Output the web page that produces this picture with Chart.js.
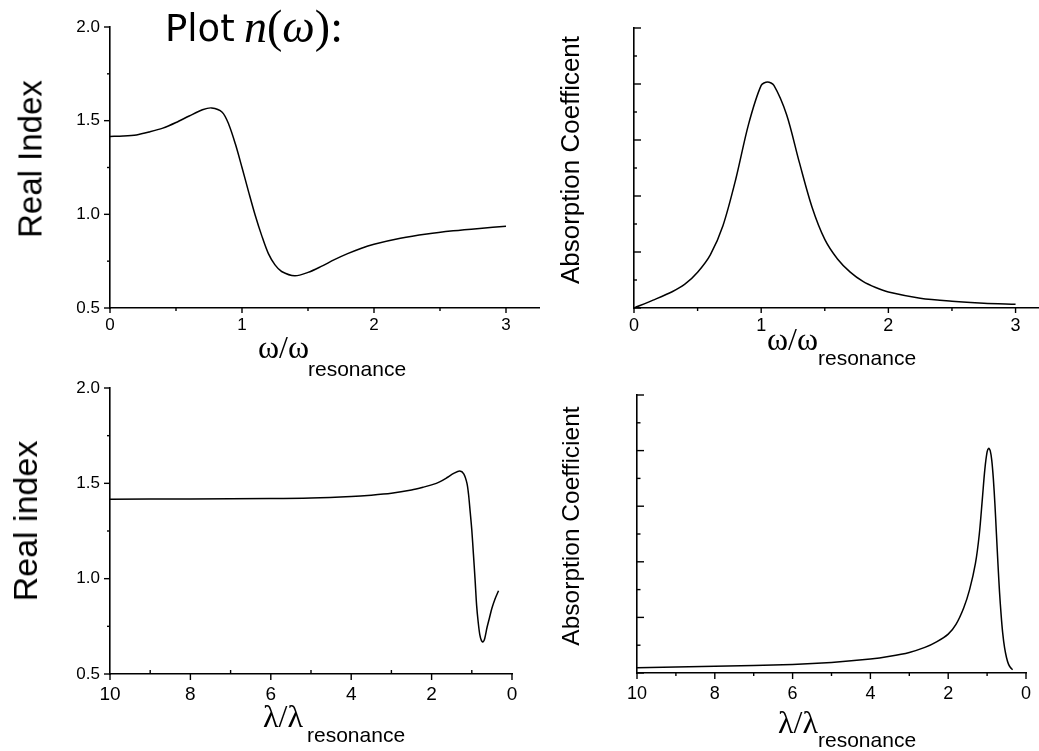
<!DOCTYPE html>
<html>
<head>
<meta charset="utf-8">
<script src="https://cdn.jsdelivr.net/npm/chart.js@4.4.1/dist/chart.umd.min.js"></script>
<style>
  html, body { margin: 0; padding: 0; background: #fff; overflow: hidden; width: 1039px; height: 751px; }
  canvas { position: absolute; left: 0; top: 0; }
  .t { position: absolute; white-space: nowrap; line-height: 1; color: #000; }
  .sans { font-family: "Liberation Sans", Arial, sans-serif; }
  .serif { font-family: "Liberation Serif", "Times New Roman", "DejaVu Serif", serif; }
  .rot { transform: translate(-50%, -50%) rotate(-90deg); }
</style>
</head>
<body>
<canvas id="tl" width="1060" height="751"></canvas>
<canvas id="tr" width="1060" height="751"></canvas>
<canvas id="bl" width="1060" height="751"></canvas>
<canvas id="br" width="1060" height="751"></canvas>

<!-- title -->
<div class="t" style="left:165px;top:10px;font-family:'DejaVu Sans';font-size:37px">Plot</div>
<div class="t serif" style="left:244px;top:4px;font-size:46px"><i>n</i>(<i>ω</i>):</div>

<!-- y titles -->
<div class="t sans rot" style="left:30px;top:159px;font-size:33px">Real Index</div>
<div class="t sans rot" style="left:25px;top:521px;font-size:34px">Real index</div>
<div class="t sans rot" style="left:570px;top:160px;font-size:26px">Absorption Coefficent</div>
<div class="t sans rot" style="left:571px;top:526px;font-size:24.5px">Absorption Coefficient</div>

<!-- x titles -->
<div class="t serif" style="left:258px;top:331px;font-size:32px">ω/ω</div>
<div class="t sans" style="left:308px;top:358px;font-size:21px">resonance</div>
<div class="t serif" style="left:767px;top:323px;font-size:32px">ω/ω</div>
<div class="t sans" style="left:818px;top:347px;font-size:21px">resonance</div>
<div class="t serif" style="left:263px;top:700px;font-size:32px">λ/λ</div>
<div class="t sans" style="left:307px;top:724px;font-size:21px">resonance</div>
<div class="t serif" style="left:778px;top:706px;font-size:32px">λ/λ</div>
<div class="t sans" style="left:818px;top:729px;font-size:21px">resonance</div>

<script>
// values
const tlOmega = [0, 0.1, 0.2, 0.3, 0.4, 0.5, 0.6, 0.7, 0.77, 0.85, 0.9, 0.95, 1.0, 1.05, 1.1, 1.15, 1.2, 1.25, 1.3, 1.4, 1.5, 1.6, 1.7, 1.8, 1.9, 2.0, 2.2, 2.4, 2.6, 2.8, 3.0];
const tlIndex = [1.416, 1.418, 1.424, 1.44, 1.46, 1.49, 1.525, 1.558, 1.568, 1.545, 1.48, 1.375, 1.25, 1.12, 0.995, 0.885, 0.79, 0.73, 0.695, 0.672, 0.69, 0.722, 0.758, 0.79, 0.818, 0.84, 0.872, 0.895, 0.912, 0.925, 0.936];

const trOmega = [0, 0.15, 0.3, 0.4, 0.5, 0.6, 0.7, 0.8, 0.9, 1.0, 1.05, 1.1, 1.2, 1.3, 1.4, 1.5, 1.6, 1.7, 1.8, 1.9, 2.0, 2.25, 2.5, 2.75, 3.0];
const trAbs = [0, 0.028, 0.058, 0.085, 0.128, 0.19, 0.295, 0.46, 0.655, 0.795, 0.807, 0.795, 0.69, 0.52, 0.36, 0.245, 0.175, 0.128, 0.095, 0.073, 0.057, 0.035, 0.024, 0.017, 0.013];

const blLambda = [10, 8, 6, 5, 4, 3.5, 3, 2.5, 2.2, 2.0, 1.8, 1.6, 1.45, 1.3, 1.2, 1.12, 1.08, 1.04, 1.0, 0.96, 0.92, 0.88, 0.84, 0.8, 0.76, 0.72, 0.68, 0.62, 0.56, 0.5, 0.42, 0.335];
const blIndex = [1.417, 1.418, 1.42, 1.423, 1.431, 1.438, 1.448, 1.465, 1.48, 1.492, 1.508, 1.532, 1.552, 1.565, 1.55, 1.5, 1.44, 1.35, 1.255, 1.13, 1.0, 0.86, 0.77, 0.705, 0.675, 0.668, 0.685, 0.745, 0.795, 0.845, 0.895, 0.937];

const brLambda = [10, 8, 6, 5, 4, 3.5, 3, 2.6, 2.3, 2.0, 1.8, 1.6, 1.45, 1.3, 1.2, 1.12, 1.06, 1.0, 0.96, 0.92, 0.88, 0.84, 0.8, 0.76, 0.72, 0.68, 0.64, 0.6, 0.55, 0.5, 0.45, 0.4, 0.345];
const brAbs = [0.019, 0.024, 0.031, 0.038, 0.05, 0.06, 0.074, 0.092, 0.112, 0.14, 0.175, 0.235, 0.3, 0.394, 0.5, 0.63, 0.73, 0.795, 0.808, 0.8, 0.765, 0.70, 0.61, 0.5, 0.39, 0.29, 0.21, 0.145, 0.09, 0.055, 0.032, 0.02, 0.012];

const indexTicks = [0.5, 1.0, 1.5, 2.0];
const indexMinor = [0.75, 1.25, 1.75];
const omegaTicks = [0, 1, 2, 3];
const omegaMinor = [0.5, 1.5, 2.5];
const lambdaTicks = [0, 2, 4, 6, 8, 10];
const lambdaMinor = [1, 3, 5, 7, 9];
const absTicks = [0, 0.2, 0.4, 0.6, 0.8, 1.0];
const absMinor = [0.1, 0.3, 0.5, 0.7, 0.9];

// tick marks drawn through the chart's scales (some point inward, some outward)
const tickMarks = {
  id: 'tickMarks',
  afterDraw(chart, args, opts) {
    const ctx = chart.ctx;
    const area = chart.chartArea;
    ctx.save();
    ctx.strokeStyle = '#000';
    ctx.lineWidth = 1.4;
    ['x', 'y'].forEach(axis => {
      const spec = opts[axis];
      if (!spec) return;
      const scale = chart.scales[axis];
      const draw = (vals, len, dir) => vals.forEach(v => {
        const p = scale.getPixelForValue(v);
        ctx.beginPath();
        if (axis === 'x') {
          ctx.moveTo(p, area.bottom);
          ctx.lineTo(p, area.bottom + (dir === 'out' ? len : -len));
        } else {
          ctx.moveTo(area.left, p);
          ctx.lineTo(area.left + (dir === 'out' ? -len : len), p);
        }
        ctx.stroke();
      });
      draw(spec.major, spec.majorLen, spec.majorDir);
      draw(spec.minor, spec.minorLen, spec.minorDir);
    });
    ctx.restore();
  }
};

const W = 1060, H = 751, YW = 60, XH = 50;

function makeChart(id, xs, ys, c) {
  const pts = xs.map((x, i) => ({ x, y: ys[i] }));
  return new Chart(document.getElementById(id), {
    type: 'line',
    data: {
      datasets: [{
        data: pts,
        borderColor: '#000',
        borderWidth: 1.5,
        pointRadius: 0,
        fill: false,
        tension: 0.3
      }]
    },
    options: {
      responsive: false,
      animation: false,
      events: [],
      layout: {
        padding: { left: c.left - YW, top: c.top, right: W - c.right, bottom: H - c.bottom - XH }
      },
      plugins: {
        legend: { display: false },
        tooltip: { enabled: false },
        tickMarks: c.marks
      },
      scales: {
        x: {
          type: 'linear',
          min: c.xMin, max: c.xMax, reverse: !!c.reverse,
          afterBuildTicks: s => { s.ticks = c.xTicks.map(v => ({ value: v })); },
          afterFit: s => { s.height = XH; },
          border: { color: '#000', width: 1.6 },
          grid: { display: true, drawOnChartArea: false, drawTicks: false, color: 'rgba(0,0,0,0)' },
          ticks: { color: '#000', padding: c.xPad, maxRotation: 0, autoSkip: false,
                   font: { family: 'Liberation Sans', size: c.xFont } }
        },
        y: {
          type: 'linear',
          min: c.yMin, max: c.yMax,
          afterBuildTicks: s => { s.ticks = c.yTicks.map(v => ({ value: v })); },
          afterFit: s => { s.width = YW; },
          border: { color: '#000', width: 1.6 },
          grid: { display: true, drawOnChartArea: false, drawTicks: false, color: 'rgba(0,0,0,0)' },
          ticks: { display: c.yLabels, color: '#000', padding: 10,
                   callback: v => v.toFixed(1),
                   font: { family: 'Liberation Sans', size: 17 } }
        }
      }
    },
    plugins: [tickMarks]
  });
}

makeChart('tl', tlOmega, tlIndex, {
  left: 110, right: 539, top: 27, bottom: 308,
  xMin: 0, xMax: 3.25, xTicks: omegaTicks, xFont: 17, xPad: 7,
  yMin: 0.5, yMax: 2.0, yTicks: indexTicks, yLabels: true,
  marks: {
    x: { major: omegaTicks, minor: omegaMinor, majorLen: 5, minorLen: 3, majorDir: 'out', minorDir: 'out' },
    y: { major: indexTicks, minor: indexMinor, majorLen: 6, minorLen: 3, majorDir: 'out', minorDir: 'out' }
  }
});

makeChart('tr', trOmega, trAbs, {
  left: 634, right: 1041, top: 28, bottom: 308,
  xMin: 0, xMax: 3.2, xTicks: omegaTicks, xFont: 18, xPad: 7,
  yMin: 0, yMax: 1.0, yTicks: absTicks, yLabels: false,
  marks: {
    x: { major: omegaTicks, minor: omegaMinor, majorLen: 5, minorLen: 3, majorDir: 'out', minorDir: 'out' },
    y: { major: absTicks, minor: absMinor, majorLen: 7, minorLen: 3, majorDir: 'in', minorDir: 'in' }
  }
});

makeChart('bl', blLambda, blIndex, {
  left: 110, right: 512, top: 388, bottom: 674,
  xMin: 0, xMax: 10, reverse: true, xTicks: lambdaTicks, xFont: 19, xPad: 9,
  yMin: 0.5, yMax: 2.0, yTicks: indexTicks, yLabels: true,
  marks: {
    x: { major: lambdaTicks, minor: lambdaMinor, majorLen: 6, minorLen: 4, majorDir: 'out', minorDir: 'in' },
    y: { major: indexTicks, minor: indexMinor, majorLen: 6, minorLen: 3, majorDir: 'out', minorDir: 'out' }
  }
});

makeChart('br', brLambda, brAbs, {
  left: 637, right: 1026, top: 395, bottom: 673,
  xMin: 0, xMax: 10, reverse: true, xTicks: lambdaTicks, xFont: 18, xPad: 10,
  yMin: 0, yMax: 1.0, yTicks: absTicks, yLabels: false,
  marks: {
    x: { major: lambdaTicks, minor: lambdaMinor, majorLen: 6, minorLen: 3, majorDir: 'out', minorDir: 'out' },
    y: { major: absTicks, minor: absMinor, majorLen: 7, minorLen: 3.5, majorDir: 'in', minorDir: 'in' }
  }
});
</script>
</body>
</html>
